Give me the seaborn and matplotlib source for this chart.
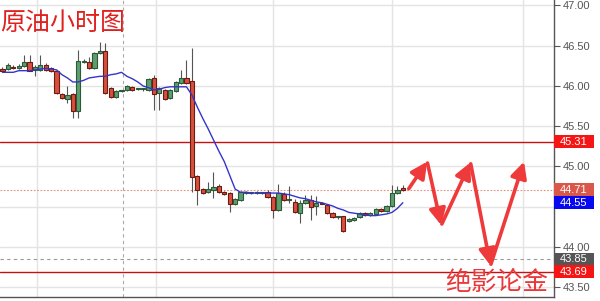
import numpy as np
import pandas as pd
import matplotlib
matplotlib.use("Agg")
import matplotlib.pyplot as plt
import matplotlib.transforms as mtransforms
from matplotlib.patches import Rectangle
import seaborn as sns

# ---------------- data ----------------
opens = [46.21, 46.21, 46.24, 46.22, 46.25, 46.30, 46.20, 46.20, 46.26, 46.22,
         46.19, 45.90, 45.84, 45.90, 45.69, 46.30, 46.30, 46.22, 46.41, 46.43,
         45.98, 45.86, 45.94, 45.95, 45.99, 45.96, 45.96, 45.95, 46.10, 45.91,
         45.95, 45.85, 45.94, 46.04, 46.10, 46.06, 44.88, 44.72, 44.68, 44.71,
         44.76, 44.68, 44.67, 44.53, 44.58, 44.67, 44.67, 44.67, 44.67, 44.68,
         44.62, 44.46, 44.66, 44.58, 44.56, 44.42, 44.55, 44.58, 44.51, 44.55,
         44.52, 44.42, 44.37, 44.38, 44.32, 44.33, 44.37, 44.42, 44.40, 44.41,
         44.47, 44.45, 44.51, 44.67, 44.73]
highs = [46.23, 46.28, 46.26, 46.27, 46.39, 46.39, 46.26, 46.39, 46.28, 46.23,
         46.20, 45.91, 46.00, 45.91, 46.45, 46.33, 46.36, 46.42, 46.55, 46.53,
         45.99, 45.95, 45.95, 46.01, 46.00, 45.97, 45.98, 46.10, 46.14, 45.99,
         45.96, 45.96, 46.06, 46.20, 46.32, 46.47, 44.90, 44.73, 44.81, 44.93,
         44.78, 44.69, 44.68, 44.61, 44.69, 44.69, 44.68, 44.69, 44.68, 44.71,
         44.63, 44.78, 44.68, 44.76, 44.60, 44.58, 44.65, 44.65, 44.63, 44.56,
         44.53, 44.43, 44.39, 44.39, 44.36, 44.37, 44.43, 44.43, 44.43, 44.48,
         44.48, 44.52, 44.77, 44.76, 44.77]
lows = [46.17, 46.20, 46.21, 46.21, 46.24, 46.18, 46.12, 46.19, 46.19, 46.17,
        45.90, 45.84, 45.79, 45.60, 45.60, 46.28, 46.21, 46.21, 46.40, 45.90,
        45.85, 45.85, 45.93, 45.94, 45.94, 45.95, 45.94, 45.94, 45.70, 45.70,
        45.83, 45.84, 45.93, 46.03, 46.03, 44.68, 44.52, 44.66, 44.67, 44.61,
        44.67, 44.65, 44.43, 44.52, 44.57, 44.66, 44.66, 44.66, 44.66, 44.61,
        44.36, 44.45, 44.57, 44.55, 44.42, 44.30, 44.53, 44.34, 44.40, 44.53,
        44.41, 44.36, 44.35, 44.19, 44.31, 44.32, 44.36, 44.39, 44.39, 44.40,
        44.44, 44.44, 44.50, 44.66, 44.69]
closes = [46.19, 46.26, 46.22, 46.25, 46.30, 46.19, 46.24, 46.26, 46.20, 46.19,
          45.91, 45.85, 45.89, 45.69, 46.31, 46.31, 46.22, 46.41, 46.43, 45.91,
          45.86, 45.94, 45.94, 46.00, 45.95, 45.96, 45.96, 46.09, 45.90, 45.98,
          45.84, 45.95, 46.05, 46.10, 46.04, 44.87, 44.71, 44.67, 44.72, 44.75,
          44.68, 44.66, 44.53, 44.60, 44.68, 44.67, 44.67, 44.68, 44.67, 44.62,
          44.46, 44.67, 44.58, 44.60, 44.43, 44.55, 44.58, 44.50, 44.55, 44.54,
          44.42, 44.37, 44.37, 44.20, 44.35, 44.36, 44.42, 44.40, 44.42, 44.47,
          44.45, 44.51, 44.67, 44.71, 44.71]
ma_line = [46.17, 46.17, 46.17, 46.19, 46.19, 46.19, 46.20, 46.21, 46.22, 46.21,
           46.20, 46.14, 46.10, 46.05, 46.05, 46.07, 46.10, 46.11, 46.12, 46.12,
           46.14, 46.15, 46.17, 46.12, 46.09, 46.05, 46.00, 45.98, 45.95, 45.96,
           45.98, 45.99, 45.99, 45.99, 45.99, 45.89, 45.74, 45.60, 45.47, 45.33,
           45.19, 45.06, 44.89, 44.72, 44.68, 44.68, 44.67, 44.67, 44.67, 44.67,
           44.67, 44.67, 44.66, 44.65, 44.63, 44.61, 44.60, 44.58, 44.56, 44.55,
           44.53, 44.51, 44.48, 44.46, 44.43, 44.42, 44.41, 44.40, 44.39, 44.39,
           44.40, 44.41, 44.43, 44.48, 44.55]

# forecast zig-zag path (candle index, price)
forecast_x = [74.95, 78.5, 81.1, 86.5, 90.2, 96.4]
forecast_y = [44.71, 45.06, 44.27, 45.05, 43.77, 45.06]

resistance = 45.31
support = 43.69
last_price = 44.71
ma_value = 44.55
marker_level = 43.85
y_ticks = [43.50, 44.00, 44.50, 45.00, 45.50, 46.00, 46.50, 47.00]
y_tick_labels = ["43.50", "44.00", "", "45.00", "45.50", "46.00", "46.50", "47.00"]
title_text = "原油小时图"
brand_text = "绝影论金"

df = pd.DataFrame({"idx": np.arange(len(opens)), "open": opens, "high": highs,
                   "low": lows, "close": closes, "ma": ma_line})

# ---------------- style ----------------
sns.set_theme(style="white")
plt.rcParams["font.family"] = ["Liberation Sans", "DejaVu Sans"]

fig = plt.figure(figsize=(6.0, 3.01), dpi=100)
ax = fig.add_axes([0.0, 4 / 301, 554 / 600, 297 / 301])

x_lo, x_hi = -0.46, 101.94
y_lo, y_hi = 43.379, 47.068
ax.set_xlim(x_lo, x_hi)
ax.set_ylim(y_lo, y_hi)

# grid
ax.set_xticks([6.4, 28.4, 50.0, 72.0, 96.2])
ax.set_xticklabels([])
ax.tick_params(axis="x", length=0)
ax.set_yticks(y_ticks)
ax.set_yticklabels(y_tick_labels)
ax.grid(True, color="#e4e4e4", lw=1.0)
ax.set_axisbelow(True)

ax.yaxis.tick_right()
ax.tick_params(axis="y", direction="out", length=4, width=0.8, colors="#555555",
               labelsize=8, pad=2, labelcolor="#555555")
for side in ["left", "top"]:
    ax.spines[side].set_visible(False)
ax.spines["right"].set_color("#555555")
ax.spines["right"].set_linewidth(1.0)
ax.spines["bottom"].set_color("#555555")
ax.spines["bottom"].set_linewidth(1.0)

# reference lines
ax.axvline(22.2, color="#aaaaaa", lw=0.8, ls=(0, (3, 3)), zorder=1)
ax.axhline(marker_level, color="#9a9a9a", lw=0.8, ls=(0, (3, 3)), zorder=1)
ax.axhline(last_price, color="#e49080", lw=0.8, ls=(0, (1.5, 1.5)), zorder=1)
ax.axhline(resistance, color="#c81010", lw=1.0, zorder=2)
ax.axhline(support, color="#c81010", lw=1.0, zorder=2)

# candles
up = df["close"] >= df["open"]
body_lo = np.minimum(df["open"], df["close"])
body_h = np.maximum(np.abs(df["close"] - df["open"]), 0.012)
ax.vlines(df["idx"], df["low"], df["high"], color="#555555", lw=0.8, zorder=3)
ax.bar(df["idx"][up], body_h[up], bottom=body_lo[up], width=0.78,
       color="#5e9e6e", edgecolor="#2c5a38", linewidth=0.8, zorder=4)
ax.bar(df["idx"][~up], body_h[~up], bottom=body_lo[~up], width=0.78,
       color="#d5503d", edgecolor="#6e1a10", linewidth=0.8, zorder=4)

# moving average
sns.lineplot(data=df, x="idx", y="ma", ax=ax, color="#3535cc", lw=1.0,
             zorder=5, legend=False)
ax.set_xlabel("")
ax.set_ylabel("")

# forecast arrows
for i in range(len(forecast_x) - 1):
    ax.annotate("", xy=(forecast_x[i + 1], forecast_y[i + 1]),
                xytext=(forecast_x[i], forecast_y[i]),
                arrowprops=dict(arrowstyle="-|>,head_length=0.7,head_width=0.35",
                                lw=2.6, color="#ee3a3a", shrinkA=1, shrinkB=0,
                                mutation_scale=14),
                zorder=6)

# price boxes on right axis
trans = mtransforms.blended_transform_factory(ax.transAxes, ax.transData)
box_w = 40 / 554
box_h = 6.5 / 80.5
for val, col in [(resistance, "#f51515"), (last_price, "#d9584a"),
                 (ma_value, "#0808f0"), (marker_level, "#555555"),
                 (support, "#f51515")]:
    ax.add_patch(Rectangle((1.0, val - box_h), box_w, 2 * box_h, transform=trans,
                           facecolor=col, edgecolor="none", clip_on=False, zorder=10))
    ax.text(1.0 + 6 / 554, val, f"{val:.2f}", transform=trans, color="white",
            fontsize=8, va="center", ha="left", clip_on=False, zorder=11)

# texts
ax.text(0.0, 0.918, title_text, transform=ax.transAxes, color="#e0201e",
        fontsize=18, va="center", ha="left", family=["Noto Sans CJK SC", "DejaVu Sans"],
        zorder=12)
ax.text(445 / 554, 0.046, brand_text, transform=ax.transAxes, color="#e8383a",
        fontsize=18.5, va="center", ha="left",
        family=["Noto Sans CJK SC", "DejaVu Sans"], zorder=12)

fig.savefig("out.png", dpi=100)
